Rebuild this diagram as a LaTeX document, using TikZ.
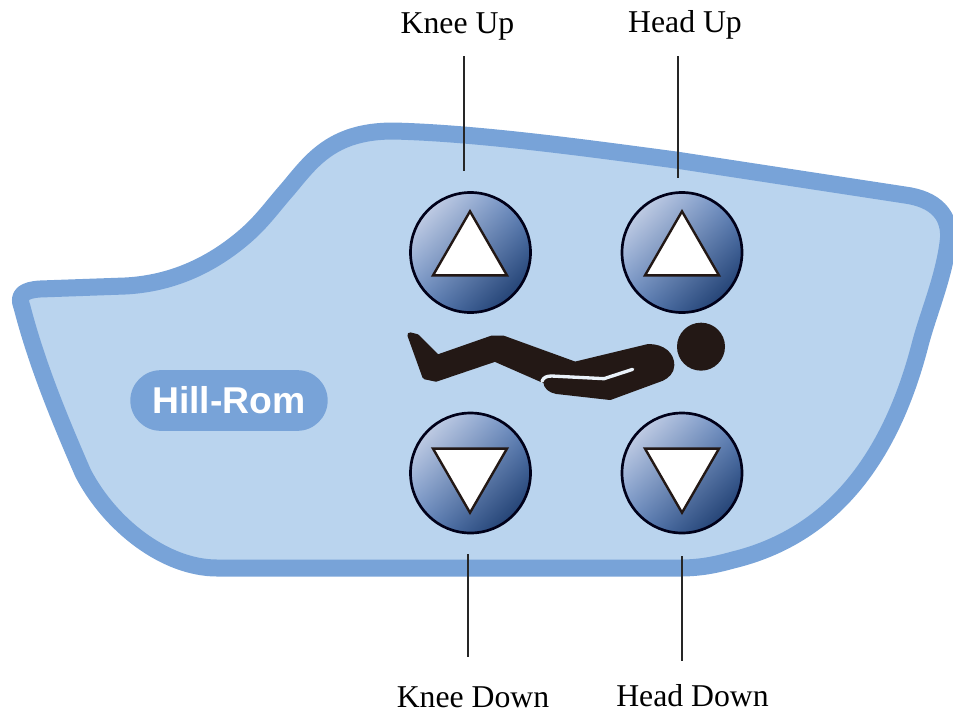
\documentclass[tikz,border=0pt]{standalone}
\usepackage{fontspec}
\setmainfont{Liberation Serif}
\newfontfamily\logofont{Liberation Sans}
\usepackage{xcolor}
\usetikzlibrary{positioning,calc,shadings,shapes.misc,shapes.geometric}
\definecolor{panelFill}{HTML}{BAD4EE}
\definecolor{panelEdge}{HTML}{78A3D8}
\definecolor{btnLight}{HTML}{E2E6F3}
\definecolor{btnMid}{HTML}{6488C0}
\definecolor{btnDark}{HTML}{0A2859}
\definecolor{figureInk}{HTML}{231815}
\tikzset{
  btn/.style={draw=black!90!blue, line width=2pt, circle, minimum size=90pt, inner sep=0pt,
    upper left=btnLight, lower right=btnDark, upper right=btnMid, lower left=btnMid},
  tri/.style={draw=figureInk, line width=1.8pt, fill=white, regular polygon, regular polygon sides=3,
    minimum size=64pt, inner sep=0pt},
  lbl/.style={anchor=base, font=\fontsize{23.8}{26}\selectfont},
  lead/.style={draw=black!85, line width=1.4pt}
}
\begin{document}
\begin{tikzpicture}[x=0.75pt,y=-0.75pt]
\useasboundingbox (0,0) rectangle (953,715);
% --- panel ---
\draw[panelEdge, fill=panelFill, line width=12.75pt, line join=round]
  (22,307) .. controls (17,295) and (24,290) .. (40,289)
  -- (125,286) .. controls (165,284) and (205,270) .. (243,238)
  .. controls (262,222) and (272,207) .. (287,190)
  .. controls (310,163) and (330,131) .. (393,131)
  .. controls (480,133) and (600,150) .. (676,160)
  -- (905,195) .. controls (935,199) and (952,215) .. (948,243)
  .. controls (943,280) and (928,314) .. (920,345)
  .. controls (885,480) and (815,540) .. (733,560)
  .. controls (715,565) and (700,568) .. (680,568)
  -- (217,568) .. controls (165,568) and (110,525) .. (83,473)
  .. controls (60,420) and (37,365) .. (22,307) -- cycle;
% --- logo ---
\node[rounded rectangle, fill=panelEdge, text=white, minimum width=148pt, minimum height=45.5pt, inner sep=0pt,
  font=\logofont\bfseries\fontsize{28}{30}\selectfont] (logo) at (229,400.5) {Hill-Rom};
% --- buttons ---
\node[btn] (kneeUp) at (470.5,252.5) {};
\node[btn] (headUp) at (682,252.5) {};
\node[btn] (kneeDown) at (470.5,473) {};
\node[btn] (headDown) at (682,473) {};
\node[tri] (kneeUpTri) at (470,254) {};
\node[tri] (headUpTri) at (682,254) {};
\node[tri, shape border rotate=180] (kneeDownTri) at (470,470) {};
\node[tri, shape border rotate=180] (headDownTri) at (682,470) {};
% --- patient figure ---
\begin{scope}[shift={(380,170)},x=0.25pt,y=-0.25pt]
\filldraw[figureInk, line width=4pt, line join=round]
  (90,495) -- (110,500) -- (172,562) -- (335,505) -- (370,505) -- (585,583) -- (805,530)
  .. controls (850,530) and (875,555) .. (875,585) .. controls (875,605) and (860,618) .. (845,625)
  -- (690,682) -- (530,664) .. controls (510,660) and (498,650) .. (498,634)
  -- (475,624) -- (345,567) -- (168,627) -- (135,620) -- cycle;
\draw[white!70!panelFill, line width=2.5pt, line cap=round] (486,634) .. controls (490,622) and (500,618) .. (515,618)
  -- (672,626) -- (758,598);
\node[circle, fill=figureInk, minimum size=36pt, inner sep=0pt] (head) at (963,530) {};
\end{scope}
% --- labels and leaders ---
\node[lbl] (kneeUpLbl) at (457.5,33) {Knee Up};
\node[lbl] (headUpLbl) at (685,32) {Head Up};
\node[lbl] (kneeDownLbl) at (473,707.5) {Knee Down};
\node[lbl] (headDownLbl) at (692.5,706) {Head Down};
\coordinate (kneeUpTop) at (464,56);
\coordinate (kneeUpEnd) at (464,171);
\coordinate (headUpTop) at (678,56);
\coordinate (headUpEnd) at (678,178);
\coordinate (kneeDownTop) at (468,554);
\coordinate (kneeDownEnd) at (468,657);
\coordinate (headDownTop) at (682,556);
\coordinate (headDownEnd) at (682,661);
\draw[lead] (kneeUpTop) -- (kneeUpEnd);
\draw[lead] (headUpTop) -- (headUpEnd);
\draw[lead] (kneeDownTop) -- (kneeDownEnd);
\draw[lead] (headDownTop) -- (headDownEnd);
\end{tikzpicture}
\end{document}
